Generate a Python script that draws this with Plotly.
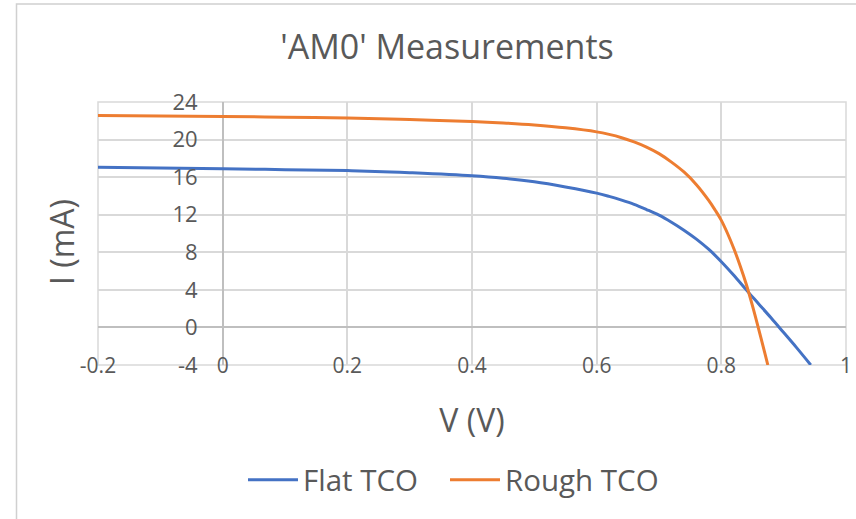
import plotly.graph_objects as go

# Measured I-V curves under AM0 illumination
voltage_flat = [-0.2, 0.0, 0.1, 0.2, 0.27, 0.3, 0.4, 0.45, 0.5, 0.55, 0.6, 0.62, 0.64, 0.66,
                0.68, 0.7, 0.72, 0.74, 0.76, 0.78, 0.8, 0.82, 0.84, 0.86, 0.88, 0.9, 0.92, 0.9435]
current_flat = [17.05, 16.89, 16.8, 16.7, 16.55, 16.47, 16.14, 15.88, 15.5, 14.95, 14.3, 13.95,
                13.55, 13.1, 12.55, 11.95, 11.2, 10.35, 9.4, 8.3, 7.0, 5.55, 4.0, 2.5, 1.0,
                -0.55, -2.1, -4.0]

voltage_rough = [-0.2, 0.0, 0.1, 0.2, 0.3, 0.4, 0.45, 0.5, 0.55, 0.6, 0.62, 0.64, 0.66, 0.68,
                 0.7, 0.72, 0.74, 0.76, 0.78, 0.79, 0.8, 0.81, 0.82, 0.83, 0.84, 0.85, 0.86,
                 0.87, 0.8746]
current_rough = [22.57, 22.46, 22.38, 22.3, 22.13, 21.93, 21.77, 21.55, 21.25, 20.82, 20.55,
                 20.2, 19.75, 19.2, 18.5, 17.6, 16.55, 15.2, 13.5, 12.5, 11.4, 10.0, 8.4, 6.6,
                 4.6, 2.3, -0.2, -2.8, -4.0]

x_tick_values = [-0.2, 0, 0.2, 0.4, 0.6, 0.8, 1]
x_tick_labels = ["-0.2", "0", "0.2", "0.4", "0.6", "0.8", "1"]
y_tick_values = [-4, 0, 4, 8, 12, 16, 20, 24]
y_tick_labels = ["-4", "0", "4", "8", "12", "16", "20", "24"]

FONT = "Open Sans"
TEXT = "#595959"
GRID = "#d9d9d9"
AXIS = "#bfbfbf"

fig = go.Figure()
fig.add_trace(go.Scatter(x=voltage_flat, y=current_flat, mode="lines", name="Flat TCO",
                         legend="legend",
                         line=dict(color="#4472C4", width=3, shape="spline", smoothing=1.0)))
fig.add_trace(go.Scatter(x=voltage_rough, y=current_rough, mode="lines", name="Rough TCO",
                         legend="legend2",
                         line=dict(color="#ED7D31", width=3, shape="spline", smoothing=1.0)))

W, H = 856, 519
L, R, T, B = 98, 10, 102, 154
plot_w = W - L - R
plot_h = H - T - B

legend_style = dict(orientation="h", xref="container", xanchor="left",
                    y=1 - 480 / H, yref="container", yanchor="middle",
                    font=dict(size=29.5, color=TEXT), itemwidth=50,
                    bgcolor="rgba(0,0,0,0)")

fig.update_layout(
    width=W, height=H,
    margin=dict(l=L, r=R, t=T, b=B, autoexpand=False),
    paper_bgcolor="white", plot_bgcolor="white",
    font=dict(family=FONT, color=TEXT),
    title=dict(text="'AM0' Measurements", x=447 / W, xanchor="center",
               y=1 - 47 / H, yanchor="middle", yref="container",
               font=dict(size=34, color=TEXT)),
    showlegend=True,
    legend=dict(x=243 / W, **legend_style),
    legend2=dict(x=445 / W, **legend_style),
    xaxis=dict(range=[-0.2, 1], tickmode="array", tickvals=x_tick_values,
               ticktext=x_tick_labels, showgrid=True, gridcolor=GRID, gridwidth=1.5,
               zeroline=True, zerolinecolor=AXIS, zerolinewidth=2,
               showline=False, ticks="", tickfont=dict(size=21, color=TEXT),
               ticklabelstandoff=-14,
               title=dict(text="V (V)", font=dict(size=32, color=TEXT), standoff=31)),
    yaxis=dict(range=[-4, 24], tickmode="array", tickvals=y_tick_values,
               ticktext=y_tick_labels, showgrid=True, gridcolor=GRID, gridwidth=1.5,
               zeroline=True, zerolinecolor=AXIS, zerolinewidth=2,
               anchor="free", position=0.2 / 1.2, showline=False, ticks="",
               tickfont=dict(size=22, color=TEXT), ticklabelstandoff=25),
)

# Vertical axis title placed at the far left of the chart
fig.add_annotation(text="I (mA)", xref="paper", yref="paper",
                   x=(61 - L) / plot_w, y=(H - B - 242) / plot_h,
                   xanchor="center", yanchor="middle", textangle=-90,
                   showarrow=False, font=dict(size=32, color=TEXT, family=FONT))

# Plot-area edges and chart-area border
fig.add_shape(type="rect", xref="paper", yref="paper", x0=0, x1=1, y0=0, y1=1,
              line=dict(color=GRID, width=1.5), layer="below")
fig.add_shape(type="rect", xref="paper", yref="paper",
              x0=(16.5 - L) / plot_w, x1=(W + 20 - L) / plot_w,
              y0=(H - B - (H + 20)) / plot_h, y1=(H - B - 4) / plot_h,
              line=dict(color="#d0d0d0", width=1.5))

fig.write_html("out.html")
